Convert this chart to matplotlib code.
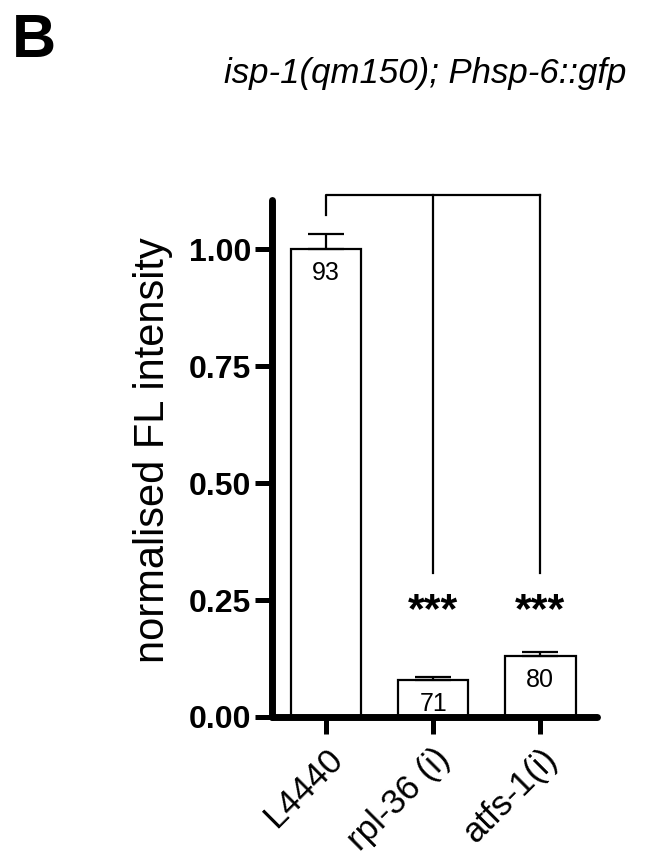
import matplotlib

matplotlib.use("Agg")
import matplotlib.pyplot as plt
import numpy as np

plt.rcParams["font.family"] = ["Liberation Sans", "DejaVu Sans"]

# values
categories = ["L4440", "rpl-36 (i)", "atfs-1(i)"]
means = [1.00, 0.078, 0.130]
sems = [0.033, 0.008, 0.008]
n_worms = [93, 71, 80]
stars = ["", "***", "***"]
y_ticks = [0.00, 0.25, 0.50, 0.75, 1.00]

fig = plt.figure(figsize=(6.66, 8.63), dpi=100)
ax = fig.add_axes([0.4084, 0.1692, 0.488, 0.5991])

x = np.arange(len(categories))
ax.bar(x, means, width=0.66, color="white", edgecolor="black", linewidth=1.6, zorder=2)
ax.errorbar(x, means, yerr=[np.zeros(len(sems)), sems], fmt="none", ecolor="black",
            elinewidth=1.6, capsize=13, capthick=1.6, zorder=3)

for xi, mean, n in zip(x, means, n_worms):
    ax.text(xi, mean - 0.066, str(n), ha="center", va="baseline", fontsize=18)

# comparison bracket against the control
top = 1.116
ax.plot([x[0], x[0], x[-1]], [1.073, top, top], color="black", lw=1.6, clip_on=False)
for xi, star in zip(x, stars):
    if not star:
        continue
    ax.plot([xi, xi], [top, 0.308], color="black", lw=1.6, clip_on=False)
    ax.text(xi, 0.203, star, ha="center", va="baseline", fontsize=31, fontweight="bold")

ax.set_xlim(-0.505, 2.53)
ax.set_ylim(0, 1.105)
ax.set_yticks(y_ticks)
ax.set_yticklabels([f"{t:.2f}" for t in y_ticks], fontsize=23, fontweight="bold")
ax.set_xticks(x)
ax.set_xticklabels(categories, fontsize=25, rotation=45, ha="right", rotation_mode="anchor")
ax.tick_params(axis="y", length=12, width=3.6, pad=3)
ax.tick_params(axis="x", length=12, width=3.6, pad=6)

for side in ["top", "right"]:
    ax.spines[side].set_visible(False)
ax.spines["left"].set_linewidth(5)
ax.spines["bottom"].set_linewidth(5)
ax.spines["bottom"].set_capstyle("round")
ax.spines["left"].set_capstyle("round")

fig.text(0.229, 0.4786, "normalised FL intensity", rotation=90, ha="center", va="center", fontsize=30)
fig.text(0.638, 0.904, "isp-1(qm150); Phsp-6::gfp", ha="center", va="baseline", fontsize=25, style="italic")
fig.text(0.018, 0.934, "B", ha="left", va="baseline", fontsize=44, fontweight="bold")

fig.savefig("out.png", dpi=100)
